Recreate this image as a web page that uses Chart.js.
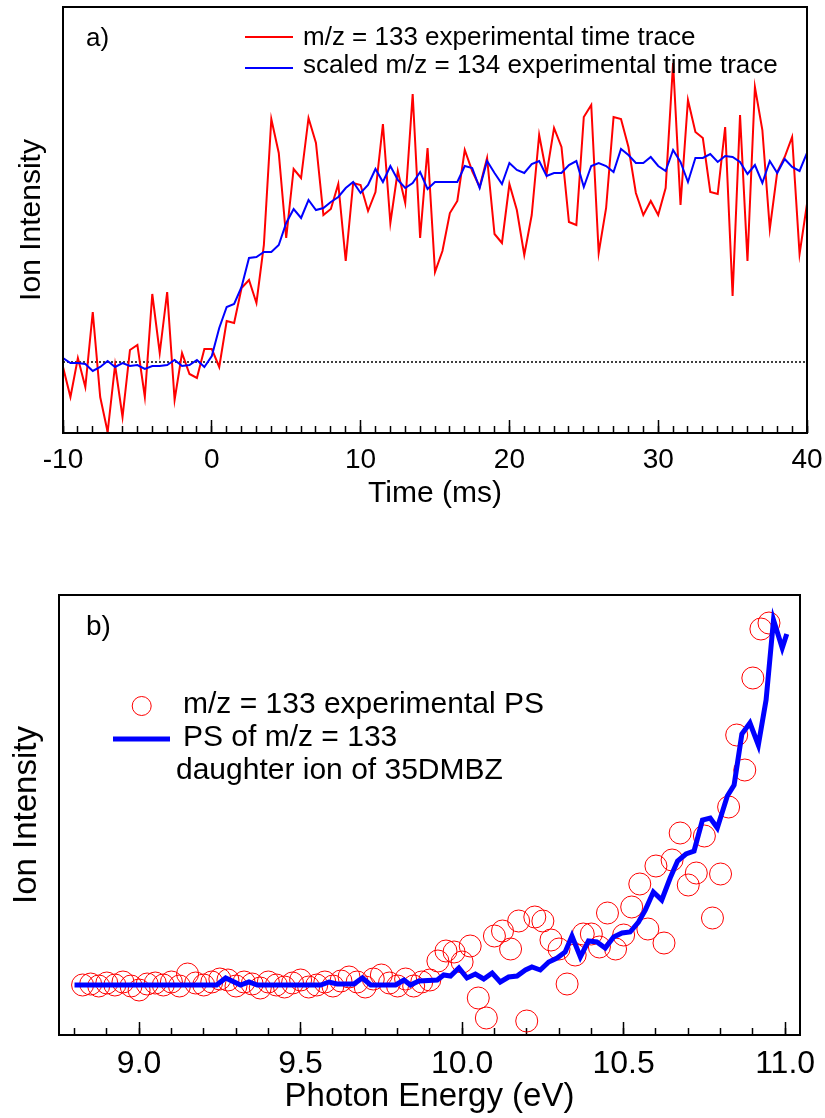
<!DOCTYPE html>
<html><head><meta charset="utf-8">
<script src="https://cdn.jsdelivr.net/npm/chart.js@4.4.1/dist/chart.umd.min.js"></script>
<style>
html,body{margin:0;padding:0;background:#fff;}
#wrap{position:relative;width:825px;height:1118px;overflow:hidden;background:#fff;}
canvas{position:absolute;left:0;}
#c1{top:0;} #c2{top:520px;}
</style></head><body>
<div id="wrap">
<canvas id="c1" width="825" height="520"></canvas>
<canvas id="c2" width="825" height="598"></canvas>
</div>
<script>
// ---------- panel a) time traces ----------
const timeMs = [-10,-9.5,-9,-8.5,-8,-7.5,-7,-6.5,-6,-5.5,-5,-4.5,-4,-3.5,-3,-2.5,-2,-1.5,-1,-0.5,
  0,0.5,1,1.5,2,2.5,3,3.5,4,4.5,5,5.5,6,6.5,7,7.5,8,8.5,9,9.5,
  10,10.5,11,11.5,12,12.5,13,13.5,14,14.5,15,15.5,16,16.5,17,17.5,18,18.5,19,19.5,
  20,20.5,21,21.5,22,22.5,23,23.5,24,24.5,25,25.5,26,26.5,27,27.5,28,28.5,29,29.5,
  30,30.5,31,31.5,32,32.5,33,33.5,34,34.5,35,35.5,36,36.5,37,37.5,38,38.5,39,39.5,40];
const trace133 = [-0.05,-0.35,0.04,-0.25,0.50,-0.35,-0.70,-0.03,-0.55,0.12,
  0.17,-0.35,0.68,0.09,0.70,-0.38,0.09,-0.12,-0.16,0.13,
  0.13,-0.05,0.41,0.39,0.74,0.82,0.59,1.17,2.43,2.09,
  1.24,1.93,1.84,2.44,2.19,1.47,1.53,1.78,1.01,1.79,
  1.77,1.51,1.70,2.38,1.39,1.91,1.59,2.68,1.24,2.14,
  0.90,1.11,1.49,1.61,2.12,1.91,1.75,2.04,1.28,1.19,
  1.78,1.52,1.07,1.47,2.27,1.88,2.34,2.15,1.40,1.37,
  2.45,2.57,1.09,1.54,2.45,2.43,2.15,1.69,1.47,1.61,
  1.47,1.74,2.99,1.57,2.62,2.30,2.24,1.70,1.68,2.35,
  0.66,2.47,1.01,2.75,2.32,1.33,1.90,2.05,2.25,1.08,
  1.58];
const trace134 = [0.04,-0.01,-0.01,-0.02,-0.09,-0.05,0.01,-0.05,-0.01,-0.04,
  -0.03,-0.07,-0.04,-0.04,-0.03,0.02,-0.04,-0.03,0.02,-0.05,
  0.06,0.34,0.55,0.58,0.75,1.04,1.05,1.10,1.10,1.17,
  1.39,1.53,1.44,1.62,1.52,1.54,1.60,1.65,1.74,1.80,
  1.69,1.77,1.93,1.80,1.96,1.82,1.74,1.79,1.90,1.73,
  1.80,1.80,1.80,1.80,1.96,1.94,1.74,2.01,1.89,1.78,
  1.99,1.92,1.89,1.98,2.01,1.86,1.89,1.89,1.97,2.01,
  1.75,1.96,1.99,1.96,1.90,2.13,2.07,1.99,1.99,2.05,
  1.96,1.91,2.12,2.00,1.80,2.04,2.04,2.08,2.00,2.06,
  2.05,2.00,1.88,1.97,1.79,2.01,1.89,2.03,1.95,1.91,
  2.09];
const baselineX = [-10, 40];
const baselineY = [0, 0];
const timeTicks = [-10, 0, 10, 20, 30, 40];

// ---------- panel b) photoionization spectra ----------
const psEnergy = [8.825,8.85,8.875,8.9,8.925,8.95,8.975,9.0,9.025,9.05,
  9.075,9.1,9.125,9.15,9.175,9.2,9.225,9.25,9.275,9.3,
  9.325,9.35,9.375,9.4,9.425,9.45,9.475,9.5,9.525,9.55,
  9.575,9.6,9.625,9.65,9.675,9.7,9.725,9.75,9.775,9.8,
  9.825,9.85,9.875,9.9,9.925,9.95,9.975,10.0,10.025,10.05,
  10.075,10.1,10.125,10.15,10.175,10.2,10.225,10.25,10.275,10.3,
  10.325,10.35,10.375,10.4,10.425,10.45,10.475,10.5,10.525,10.55,
  10.575,10.6,10.625,10.65,10.675,10.7,10.725,10.75,10.775,10.8,
  10.825,10.85,10.875,10.9,10.925,10.95];
const ps133 = [0.00,0.01,-0.01,0.02,0.00,0.03,-0.01,-0.05,0.01,0.02,
  0.00,0.03,-0.01,0.11,0.02,0.00,0.03,0.06,0.05,-0.01,
  0.03,0.01,-0.03,0.03,0.00,-0.02,0.02,0.05,-0.02,0.00,
  0.03,-0.01,0.04,0.08,0.03,-0.02,0.06,0.10,0.02,-0.01,
  0.06,-0.01,0.03,0.05,0.24,0.34,0.33,0.23,0.39,-0.13,
  -0.33,0.49,0.54,0.36,0.64,-0.36,0.68,0.64,0.45,0.36,
  0.01,0.30,0.51,0.51,0.38,0.72,0.36,0.50,0.78,1.01,
  0.56,1.19,0.42,1.25,1.52,1.00,1.12,1.49,0.67,1.11,
  1.78,2.50,2.15,3.07,3.56,3.62];
const fitEnergy = [8.80,9.24,9.268,9.314,9.34,9.366,9.562,9.588,9.613,9.665,
  9.691,9.717,9.794,9.82,9.84,9.866,9.923,9.943,9.964,9.99,
  10.015,10.041,10.067,10.093,10.118,10.144,10.17,10.196,10.216,10.242,
  10.268,10.294,10.319,10.34,10.366,10.391,10.417,10.443,10.469,10.495,
  10.52,10.546,10.567,10.592,10.618,10.644,10.667,10.693,10.718,10.744,
  10.768,10.79,10.821,10.842,10.866,10.891,10.917,10.941,10.964,10.991,11.005];
const fit133 = [0,0,0.07,0,0.03,0,0,0.03,0.01,0.01,
  0.07,0,0,0.05,0,0.04,0.05,0.10,0.09,0.17,
  0.07,0.11,0.06,0.12,0.03,0.08,0.09,0.15,0.18,0.15,
  0.23,0.27,0.33,0.49,0.28,0.44,0.43,0.37,0.48,0.52,
  0.53,0.63,0.75,0.93,0.85,1.07,1.24,1.31,1.34,1.65,
  1.67,1.57,1.89,2.00,2.51,2.62,2.40,2.85,3.65,3.37,3.51];

const pts = (xs, ys) => xs.map((x, i) => ({x: x, y: ys[i]}));
const FONT = "'Liberation Sans', Arial, Helvetica, sans-serif";
Chart.defaults.font.family = FONT;
Chart.defaults.color = '#000';

const framePlugin = {
  id: 'frame',
  afterDatasetsDraw(chart, args, opts) {
    const {ctx, chartArea: a} = chart;
    ctx.save();
    ctx.strokeStyle = '#000';
    ctx.lineWidth = opts.width || 2;
    ctx.strokeRect(a.left, a.top, a.right - a.left, a.bottom - a.top);
    ctx.restore();
  }
};
const notesPlugin = {
  id: 'notes',
  afterDraw(chart, args, opts) {
    const ctx = chart.ctx;
    ctx.save();
    (opts.items || []).forEach(it => {
      const ds = it.ds !== undefined ? chart.data.datasets[it.ds] : null;
      if (it.kind === 'line') {
        ctx.strokeStyle = ds.borderColor; ctx.lineWidth = ds.borderWidth;
        ctx.beginPath(); ctx.moveTo(it.x1, it.y); ctx.lineTo(it.x2, it.y); ctx.stroke();
      } else if (it.kind === 'circle') {
        ctx.strokeStyle = ds.pointBorderColor; ctx.lineWidth = ds.pointBorderWidth;
        ctx.beginPath(); ctx.arc(it.x, it.y, it.r, 0, Math.PI * 2); ctx.stroke();
      } else {
        ctx.fillStyle = '#000';
        ctx.font = it.size + 'px ' + FONT;
        ctx.textBaseline = 'middle'; ctx.textAlign = 'left';
        ctx.fillText(it.text, it.x, it.y);
      }
    });
    ctx.restore();
  }
};

function xAxes(min, max, majorStep, minorStep, tickFont, tickPad, titleText, titleFont, titlePad, axisH, majorLen, minorLen, fmt) {
  return {
    xMinor: {
      type: 'linear', position: 'bottom', weight: -1, min: min, max: max,
      ticks: {display: false, stepSize: minorStep, maxTicksLimit: 1000, includeBounds: false},
      grid: {display: true, drawOnChartArea: false, drawTicks: true, tickLength: -minorLen, tickWidth: 1.5, tickColor: '#000'},
      border: {display: false},
      afterFit(s) { s.height = 0; s.paddingLeft = 0; s.paddingRight = 0; }
    },
    x: {
      type: 'linear', position: 'bottom', weight: 0, min: min, max: max,
      afterBuildTicks(s) { s.ticks = fmt.values.map(v => ({value: v})); },
      ticks: {stepSize: majorStep, includeBounds: false, autoSkip: false, maxRotation: 0, padding: tickPad,
        font: {size: tickFont}, color: '#000', callback: v => fmt.label(v)},
      grid: {display: true, drawOnChartArea: false, drawTicks: true, tickLength: -majorLen, tickWidth: 1.5, tickColor: '#000'},
      border: {display: false},
      title: {display: true, text: titleText, font: {size: titleFont}, color: '#000', padding: {top: 0, bottom: titlePad}},
      afterFit(s) { s.height = axisH; s.paddingLeft = 0; s.paddingRight = 0; }
    }
  };
}

// ----- chart a -----
const scalesA = xAxes(-10, 40, 10, 1, 28, 23, 'Time (ms)', 30, 8, 87, 13, 7,
  {values: timeTicks, label: v => String(v)});
scalesA.y = {
  type: 'linear', min: -0.71, max: 3.55,
  ticks: {display: false}, grid: {display: false}, border: {display: false},
  title: {display: true, text: 'Ion Intensity', font: {size: 30}, color: '#000', padding: {top: 14, bottom: 0}},
  afterFit(s) { s.width = 63; s.paddingTop = 0; s.paddingBottom = 0; }
};
new Chart(document.getElementById('c1'), {
  type: 'line',
  data: {datasets: [
    {label: 'scaled m/z = 134 experimental time trace', data: pts(timeMs, trace134), borderColor: '#0000ff', borderWidth: 2, pointRadius: 0, order: 1},
    {label: 'm/z = 133 experimental time trace', data: pts(timeMs, trace133), borderColor: '#ff0000', borderWidth: 2, pointRadius: 0, order: 2},
    {label: 'baseline', data: pts(baselineX, baselineY), borderColor: '#000', borderWidth: 1.5, borderDash: [2, 2], pointRadius: 0, order: 3}
  ]},
  options: {
    responsive: false, animation: false, devicePixelRatio: 1, events: [],
    layout: {padding: {top: 7, right: 18, left: 0, bottom: 0}},
    scales: scalesA,
    plugins: {
      legend: {display: false}, tooltip: {enabled: false},
      frame: {width: 2},
      notes: {items: [
        {text: 'a)', x: 86, y: 39, size: 26},
        {kind: 'line', ds: 1, x1: 245, x2: 293, y: 37},
        {text: 'm/z = 133 experimental time trace', x: 303, y: 38, size: 26},
        {kind: 'line', ds: 0, x1: 245, x2: 293, y: 68},
        {text: 'scaled m/z = 134 experimental time trace', x: 303, y: 66, size: 26}
      ]}
    }
  },
  plugins: [framePlugin, notesPlugin]
});

// ----- chart b -----
const scalesB = xAxes(8.752, 11.046, 0.5, 0.1, 32, 23, 'Photon Energy (eV)', 33, 1, 83, 13, 7,
  {values: [9.0, 9.5, 10.0, 10.5, 11.0], label: v => v.toFixed(1)});
scalesB.y = {
  type: 'linear', min: -0.50, max: 3.90,
  ticks: {display: false}, grid: {display: false}, border: {display: false},
  title: {display: true, text: 'Ion Intensity', font: {size: 33}, color: '#000', padding: {top: 7, bottom: 0}},
  afterFit(s) { s.width = 59; s.paddingTop = 0; s.paddingBottom = 0; }
};
new Chart(document.getElementById('c2'), {
  type: 'line',
  data: {datasets: [
    {label: 'PS of m/z = 133 daughter ion of 35DMBZ', data: pts(fitEnergy, fit133), borderColor: '#0000ff', borderWidth: 5, pointRadius: 0, order: 1},
    {label: 'm/z = 133 experimental PS', data: pts(psEnergy, ps133), showLine: false, borderColor: '#ff0000',
      pointRadius: 11, pointStyle: 'circle', pointBackgroundColor: 'rgba(0,0,0,0)', pointBorderColor: '#ff0000', pointBorderWidth: 1, order: 2}
  ]},
  options: {
    responsive: false, animation: false, devicePixelRatio: 1, events: [],
    layout: {padding: {top: 75, right: 25, left: 0, bottom: 0}},
    scales: scalesB,
    plugins: {
      legend: {display: false}, tooltip: {enabled: false},
      frame: {width: 2},
      notes: {items: [
        {text: 'b)', x: 86, y: 107, size: 28},
        {kind: 'circle', ds: 1, x: 141.7, y: 186, r: 9.5},
        {text: 'm/z = 133 experimental PS', x: 183, y: 185, size: 30},
        {kind: 'line', ds: 0, x1: 113, x2: 170, y: 219},
        {text: 'PS of m/z = 133', x: 183, y: 218, size: 30},
        {text: 'daughter ion of 35DMBZ', x: 176, y: 251, size: 30}
      ]}
    }
  },
  plugins: [framePlugin, notesPlugin]
});
</script>
</body></html>
